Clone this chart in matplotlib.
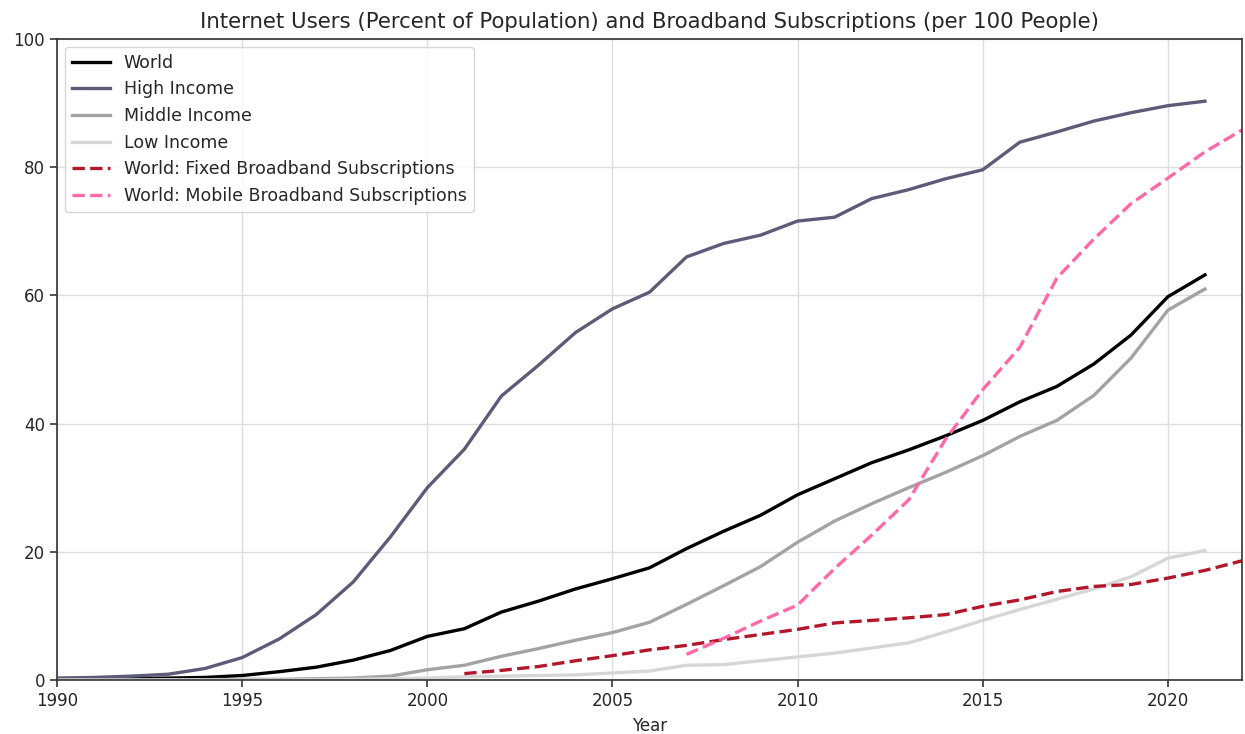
import matplotlib
matplotlib.use("Agg")
import matplotlib.pyplot as plt
import numpy as np

years = list(range(1990, 2022))
world = [0.05, 0.1, 0.2, 0.3, 0.4, 0.7, 1.3, 2.0, 3.1, 4.6, 6.8, 8.0, 10.6, 12.3, 14.2, 15.8,
         17.5, 20.5, 23.2, 25.7, 28.9, 31.4, 33.9, 35.9, 38.1, 40.5, 43.4, 45.8, 49.3, 53.8, 59.8, 63.2]
high = [0.3, 0.4, 0.6, 0.9, 1.8, 3.5, 6.4, 10.2, 15.3, 22.3, 30.0, 36.0, 44.3, 49.1, 54.2, 57.9,
        60.5, 66.0, 68.1, 69.4, 71.6, 72.2, 75.1, 76.5, 78.2, 79.6, 83.9, 85.5, 87.2, 88.5, 89.6, 90.3]
middle = [0.0, 0.0, 0.0, 0.05, 0.05, 0.1, 0.1, 0.2, 0.3, 0.6, 1.6, 2.3, 3.7, 4.9, 6.2, 7.4,
          9.0, 11.8, 14.7, 17.7, 21.5, 24.8, 27.5, 30.0, 32.4, 35.0, 38.0, 40.5, 44.4, 50.2, 57.7, 61.0]
low = [0.0, 0.0, 0.0, 0.0, 0.0, 0.0, 0.0, 0.05, 0.1, 0.2, 0.3, 0.5, 0.6, 0.7, 0.8, 1.1,
       1.4, 2.3, 2.4, 3.0, 3.6, 4.2, 5.0, 5.8, 7.5, 9.3, 11.0, 12.6, 14.2, 16.1, 19.0, 20.2]

bb_years = list(range(2001, 2023))
fixed = [1.0, 1.5, 2.1, 3.0, 3.8, 4.7, 5.4, 6.3, 7.1, 7.9, 8.9, 9.3, 9.7, 10.2, 11.5, 12.5,
         13.8, 14.6, 14.9, 15.9, 17.1, 18.6]
mobile = [np.nan, np.nan, np.nan, np.nan, np.nan, np.nan, 4.0, 6.5, 9.2, 11.7, 17.4, 22.6,
          28.1, 37.6, 45.3, 51.9, 62.7, 68.8, 74.3, 78.3, 82.4, 85.8]

labels = ["World", "High Income", "Middle Income", "Low Income",
          "World: Fixed Broadband Subscriptions", "World: Mobile Broadband Subscriptions"]

txt = "#262626"
plt.rcParams["text.color"] = txt
plt.rcParams["xtick.color"] = txt
plt.rcParams["ytick.color"] = txt
plt.rcParams["axes.labelcolor"] = txt

fig = plt.figure(figsize=(12.45, 7.34), dpi=100)
ax = fig.add_axes([57/1245, 1 - 680/734, (1242-57)/1245, (680-39)/734])

lw = 2.4
ax.plot(years, world, color="black", lw=lw, label=labels[0])
ax.plot(years, high, color="#5e5b78", lw=lw, label=labels[1])
ax.plot(years, middle, color="#a3a3a3", lw=lw, label=labels[2])
ax.plot(years, low, color="#d6d6d6", lw=lw, label=labels[3])
ax.plot(bb_years, fixed, color="#b2182b", lw=lw, ls="--", label=labels[4])
ax.plot(bb_years, mobile, color="#ff69a8", lw=lw, ls="--", label=labels[5])

ax.set_xlim(1990, 2022)
ax.set_ylim(0, 100)
ax.set_xticks([1990, 1995, 2000, 2005, 2010, 2015, 2020])
ax.set_yticks([0, 20, 40, 60, 80, 100])
ax.grid(True, color="#dddddd", lw=1.0)
ax.set_axisbelow(True)
for s in ax.spines.values():
    s.set_color("#333333")
    s.set_linewidth(1.2)
ax.tick_params(labelsize=12, length=5, width=1.2, color="#333333")
ax.set_xlabel("Year", fontsize=12, labelpad=5)
ax.set_title("Internet Users (Percent of Population) and Broadband Subscriptions (per 100 People)",
             fontsize=15.3, pad=8)
ax.legend(loc="upper left", fontsize=12.5, framealpha=0.8, handlelength=2.2,
          borderaxespad=0.45)

fig.savefig("out.png", dpi=100)
